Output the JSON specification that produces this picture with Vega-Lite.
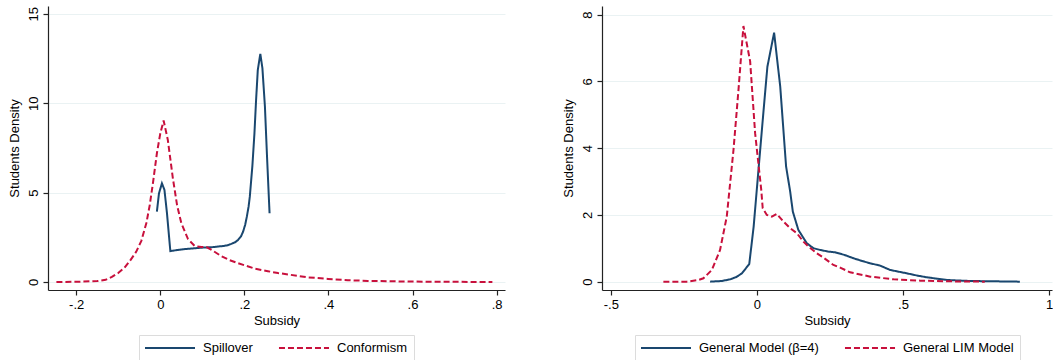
{
  "$schema": "https://vega.github.io/schema/vega-lite/v6.json",
  "background": "white",
  "padding": {"left": 8, "top": 6, "right": 0, "bottom": 0},
  "spacing": 57,
  "config": {
    "font": "Liberation Sans",
    "view": {"stroke": null},
    "axis": {
      "labelFont": "Liberation Sans", "labelFontSize": 13, "labelColor": "#000",
      "titleFont": "Liberation Sans", "titleFontSize": 13, "titleFontWeight": "normal", "titleColor": "#000",
      "domainColor": "#222", "tickColor": "#222", "tickSize": 5, "domainWidth": 1.2, "tickWidth": 1.2,
      "gridColor": "#eaf2f3", "gridWidth": 1, "labelPadding": 3
    },
    "legend": {
      "orient": "bottom", "direction": "horizontal", "strokeColor": "#dcdcdc", "padding": 6,
      "symbolType": "M-4.17,0H4.17", "symbolSize": 144, "symbolStrokeWidth": 2, "symbolOffset": 18,
      "labelFont": "Liberation Sans", "labelFontSize": 13, "labelColor": "#000",
      "labelOffset": 26, "columnPadding": 21, "offset": 8,
      "layout": {"bottom": {"anchor": "middle"}}
    }
  },
  "hconcat": [
    {
      "width": 457, "height": 284,
      "data": {"values": [
        {"s": "Spillover", "x": -0.008, "y": 3.94},
        {"s": "Spillover", "x": -0.003, "y": 4.96},
        {"s": "Spillover", "x": 0.004, "y": 5.52},
        {"s": "Spillover", "x": 0.010, "y": 5.15},
        {"s": "Spillover", "x": 0.016, "y": 3.84},
        {"s": "Spillover", "x": 0.024, "y": 1.73},
        {"s": "Spillover", "x": 0.054, "y": 1.83},
        {"s": "Spillover", "x": 0.100, "y": 1.92},
        {"s": "Spillover", "x": 0.125, "y": 1.95},
        {"s": "Spillover", "x": 0.149, "y": 2.01},
        {"s": "Spillover", "x": 0.160, "y": 2.05},
        {"s": "Spillover", "x": 0.169, "y": 2.13},
        {"s": "Spillover", "x": 0.178, "y": 2.22},
        {"s": "Spillover", "x": 0.185, "y": 2.35},
        {"s": "Spillover", "x": 0.192, "y": 2.55},
        {"s": "Spillover", "x": 0.197, "y": 2.81},
        {"s": "Spillover", "x": 0.202, "y": 3.2},
        {"s": "Spillover", "x": 0.206, "y": 3.66},
        {"s": "Spillover", "x": 0.210, "y": 4.2},
        {"s": "Spillover", "x": 0.213, "y": 4.77},
        {"s": "Spillover", "x": 0.219, "y": 6.45},
        {"s": "Spillover", "x": 0.224, "y": 8.3},
        {"s": "Spillover", "x": 0.228, "y": 10.2},
        {"s": "Spillover", "x": 0.232, "y": 11.86},
        {"s": "Spillover", "x": 0.238, "y": 12.76},
        {"s": "Spillover", "x": 0.243, "y": 11.96},
        {"s": "Spillover", "x": 0.249, "y": 9.8},
        {"s": "Spillover", "x": 0.254, "y": 7.0},
        {"s": "Spillover", "x": 0.260, "y": 3.84},
        {"s": "Conformism", "x": -0.247, "y": 0},
        {"s": "Conformism", "x": -0.2, "y": 0.01},
        {"s": "Conformism", "x": -0.15, "y": 0.05},
        {"s": "Conformism", "x": -0.13, "y": 0.12},
        {"s": "Conformism", "x": -0.115, "y": 0.28},
        {"s": "Conformism", "x": -0.1, "y": 0.5},
        {"s": "Conformism", "x": -0.085, "y": 0.8},
        {"s": "Conformism", "x": -0.07, "y": 1.25},
        {"s": "Conformism", "x": -0.057, "y": 1.7},
        {"s": "Conformism", "x": -0.045, "y": 2.3},
        {"s": "Conformism", "x": -0.033, "y": 3.3},
        {"s": "Conformism", "x": -0.025, "y": 4.3},
        {"s": "Conformism", "x": -0.017, "y": 5.6},
        {"s": "Conformism", "x": -0.008, "y": 7.2},
        {"s": "Conformism", "x": 0.0, "y": 8.3},
        {"s": "Conformism", "x": 0.008, "y": 9.03},
        {"s": "Conformism", "x": 0.018, "y": 7.95},
        {"s": "Conformism", "x": 0.03, "y": 5.8},
        {"s": "Conformism", "x": 0.04, "y": 4.3},
        {"s": "Conformism", "x": 0.05, "y": 3.3},
        {"s": "Conformism", "x": 0.066, "y": 2.4},
        {"s": "Conformism", "x": 0.082, "y": 2.01},
        {"s": "Conformism", "x": 0.098, "y": 1.95},
        {"s": "Conformism", "x": 0.11, "y": 1.95},
        {"s": "Conformism", "x": 0.125, "y": 1.75},
        {"s": "Conformism", "x": 0.145, "y": 1.45},
        {"s": "Conformism", "x": 0.165, "y": 1.22},
        {"s": "Conformism", "x": 0.185, "y": 1.05},
        {"s": "Conformism", "x": 0.205, "y": 0.9},
        {"s": "Conformism", "x": 0.224, "y": 0.75},
        {"s": "Conformism", "x": 0.256, "y": 0.6},
        {"s": "Conformism", "x": 0.28, "y": 0.5},
        {"s": "Conformism", "x": 0.304, "y": 0.42},
        {"s": "Conformism", "x": 0.327, "y": 0.34},
        {"s": "Conformism", "x": 0.351, "y": 0.26},
        {"s": "Conformism", "x": 0.399, "y": 0.17},
        {"s": "Conformism", "x": 0.446, "y": 0.1},
        {"s": "Conformism", "x": 0.494, "y": 0.06},
        {"s": "Conformism", "x": 0.57, "y": 0.03},
        {"s": "Conformism", "x": 0.65, "y": 0.01},
        {"s": "Conformism", "x": 0.79, "y": 0.0}
      ]},
      "mark": {"type": "line", "strokeWidth": 2, "strokeCap": "butt"},
      "encoding": {
        "x": {"field": "x", "type": "quantitative",
          "scale": {"domain": [-0.267, 0.82], "nice": false, "zero": false},
          "axis": {"title": "Subsidy", "values": [-0.2, 0, 0.2, 0.4, 0.6, 0.8], "grid": false, "titlePadding": 3,
            "labelExpr": "datum.value == 0 ? '0' : replace(toString(datum.value), '0.', '.')"}},
        "y": {"field": "y", "type": "quantitative",
          "scale": {"domain": [-0.45, 15.44], "nice": false, "zero": false},
          "axis": {"title": "Students Density", "values": [0, 5, 10, 15], "grid": true,
            "labelAngle": -90, "labelAlign": "center", "labelBaseline": "bottom", "titlePadding": 6}},
        "color": {"field": "s", "type": "nominal",
          "scale": {"domain": ["Spillover", "Conformism"], "range": ["#1a476f", "#c8103c"]},
          "legend": {"title": null}},
        "strokeDash": {"field": "s", "type": "nominal",
          "scale": {"domain": ["Spillover", "Conformism"], "range": [[1, 0], [6, 3]]},
          "legend": {"title": null}}
      }
    },
    {
      "width": 450, "height": 284,
      "data": {"values": [
        {"s": "General Model (β=4)", "x": -0.16, "y": 0},
        {"s": "General Model (β=4)", "x": -0.12, "y": 0.02},
        {"s": "General Model (β=4)", "x": -0.091, "y": 0.07},
        {"s": "General Model (β=4)", "x": -0.07, "y": 0.14},
        {"s": "General Model (β=4)", "x": -0.051, "y": 0.25},
        {"s": "General Model (β=4)", "x": -0.026, "y": 0.53},
        {"s": "General Model (β=4)", "x": -0.011, "y": 1.65},
        {"s": "General Model (β=4)", "x": 0.0055, "y": 3.35},
        {"s": "General Model (β=4)", "x": 0.023, "y": 5.14},
        {"s": "General Model (β=4)", "x": 0.036, "y": 6.44},
        {"s": "General Model (β=4)", "x": 0.059, "y": 7.46},
        {"s": "General Model (β=4)", "x": 0.08, "y": 5.84},
        {"s": "General Model (β=4)", "x": 0.1, "y": 3.45},
        {"s": "General Model (β=4)", "x": 0.114, "y": 2.7},
        {"s": "General Model (β=4)", "x": 0.123, "y": 2.1},
        {"s": "General Model (β=4)", "x": 0.142, "y": 1.55},
        {"s": "General Model (β=4)", "x": 0.16, "y": 1.3},
        {"s": "General Model (β=4)", "x": 0.171, "y": 1.15},
        {"s": "General Model (β=4)", "x": 0.194, "y": 1.0},
        {"s": "General Model (β=4)", "x": 0.217, "y": 0.95},
        {"s": "General Model (β=4)", "x": 0.245, "y": 0.9},
        {"s": "General Model (β=4)", "x": 0.268, "y": 0.88},
        {"s": "General Model (β=4)", "x": 0.3, "y": 0.8},
        {"s": "General Model (β=4)", "x": 0.331, "y": 0.7},
        {"s": "General Model (β=4)", "x": 0.36, "y": 0.62},
        {"s": "General Model (β=4)", "x": 0.388, "y": 0.55},
        {"s": "General Model (β=4)", "x": 0.422, "y": 0.48},
        {"s": "General Model (β=4)", "x": 0.456, "y": 0.35},
        {"s": "General Model (β=4)", "x": 0.513, "y": 0.25},
        {"s": "General Model (β=4)", "x": 0.55, "y": 0.18},
        {"s": "General Model (β=4)", "x": 0.582, "y": 0.13},
        {"s": "General Model (β=4)", "x": 0.65, "y": 0.05},
        {"s": "General Model (β=4)", "x": 0.73, "y": 0.02},
        {"s": "General Model (β=4)", "x": 0.9, "y": 0},
        {"s": "General LIM Model", "x": -0.32, "y": 0},
        {"s": "General LIM Model", "x": -0.24, "y": 0.0},
        {"s": "General LIM Model", "x": -0.2, "y": 0.05},
        {"s": "General LIM Model", "x": -0.183, "y": 0.1},
        {"s": "General LIM Model", "x": -0.154, "y": 0.35},
        {"s": "General LIM Model", "x": -0.126, "y": 0.95},
        {"s": "General LIM Model", "x": -0.103, "y": 1.95},
        {"s": "General LIM Model", "x": -0.08, "y": 3.95},
        {"s": "General LIM Model", "x": -0.063, "y": 5.74},
        {"s": "General LIM Model", "x": -0.046, "y": 7.66},
        {"s": "General LIM Model", "x": -0.023, "y": 6.6},
        {"s": "General LIM Model", "x": -0.006, "y": 4.45},
        {"s": "General LIM Model", "x": 0.015, "y": 2.75},
        {"s": "General LIM Model", "x": 0.02, "y": 2.2},
        {"s": "General LIM Model", "x": 0.034, "y": 2.0},
        {"s": "General LIM Model", "x": 0.051, "y": 1.95},
        {"s": "General LIM Model", "x": 0.068, "y": 2.03},
        {"s": "General LIM Model", "x": 0.091, "y": 1.8},
        {"s": "General LIM Model", "x": 0.114, "y": 1.6},
        {"s": "General LIM Model", "x": 0.137, "y": 1.45},
        {"s": "General LIM Model", "x": 0.159, "y": 1.2},
        {"s": "General LIM Model", "x": 0.177, "y": 1.05},
        {"s": "General LIM Model", "x": 0.205, "y": 0.85},
        {"s": "General LIM Model", "x": 0.228, "y": 0.72},
        {"s": "General LIM Model", "x": 0.262, "y": 0.5},
        {"s": "General LIM Model", "x": 0.285, "y": 0.42},
        {"s": "General LIM Model", "x": 0.319, "y": 0.28},
        {"s": "General LIM Model", "x": 0.388, "y": 0.15},
        {"s": "General LIM Model", "x": 0.468, "y": 0.07},
        {"s": "General LIM Model", "x": 0.559, "y": 0.03},
        {"s": "General LIM Model", "x": 0.65, "y": 0.01},
        {"s": "General LIM Model", "x": 0.78, "y": 0}
      ]},
      "mark": {"type": "line", "strokeWidth": 2, "strokeCap": "butt"},
      "encoding": {
        "x": {"field": "x", "type": "quantitative",
          "scale": {"domain": [-0.53, 1.01], "nice": false, "zero": false},
          "axis": {"title": "Subsidy", "values": [-0.5, 0, 0.5, 1], "grid": false, "titlePadding": 3,
            "labelExpr": "datum.value == 0 ? '0' : replace(toString(datum.value), '0.', '.')"}},
        "y": {"field": "y", "type": "quantitative",
          "scale": {"domain": [-0.25, 8.26], "nice": false, "zero": false},
          "axis": {"title": "Students Density", "values": [0, 2, 4, 6, 8], "grid": true,
            "labelAngle": -90, "labelAlign": "center", "labelBaseline": "bottom", "titlePadding": 6}},
        "color": {"field": "s", "type": "nominal",
          "scale": {"domain": ["General Model (β=4)", "General LIM Model"], "range": ["#1a476f", "#c8103c"]},
          "legend": {"title": null}},
        "strokeDash": {"field": "s", "type": "nominal",
          "scale": {"domain": ["General Model (β=4)", "General LIM Model"], "range": [[1, 0], [6, 3]]},
          "legend": {"title": null}}
      }
    }
  ],
  "resolve": {"scale": {"color": "independent", "strokeDash": "independent", "x": "independent", "y": "independent"}}
}
